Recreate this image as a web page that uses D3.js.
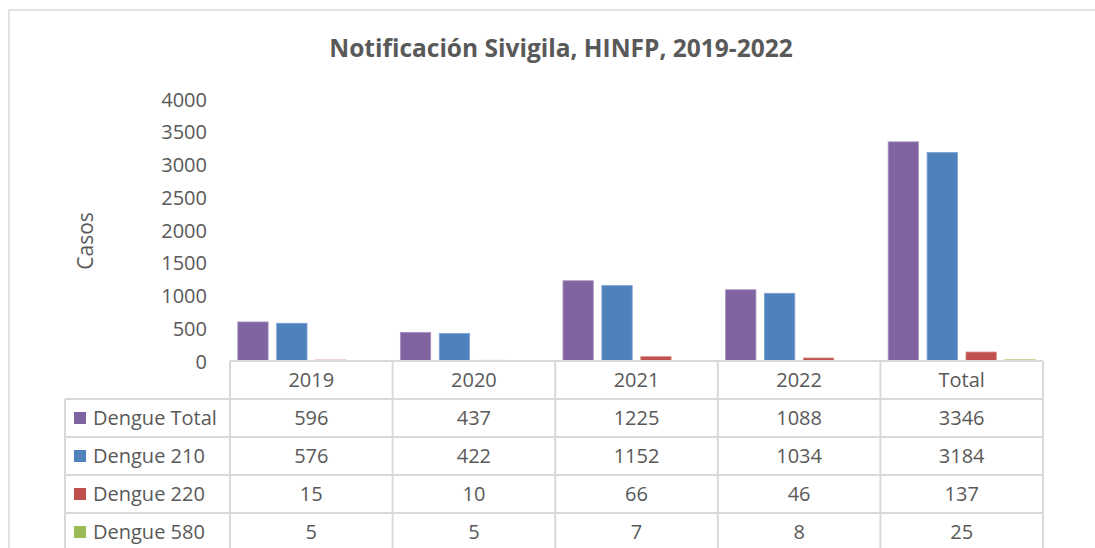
<!DOCTYPE html>
<html>
<head>
<meta charset="utf-8">
<script src="https://cdn.jsdelivr.net/npm/d3@7"></script>
<style>
  html, body { margin: 0; padding: 0; background: #fff; }
  text { font-family: "Open Sans", "Noto Sans", sans-serif; fill: #595959; }
</style>
</head>
<body>
<script>
// datos
const categorias = ['2019', '2020', '2021', '2022', 'Total']
const series = ['Dengue Total', 'Dengue 210', 'Dengue 220', 'Dengue 580']
const dengueTotal = [596, 437, 1225, 1088, 3346]
const dengue210 = [576, 422, 1152, 1034, 3184]
const dengue220 = [15, 10, 66, 46, 137]
const dengue580 = [5, 5, 7, 8, 25]
const yTicks = [0, 500, 1000, 1500, 2000, 2500, 3000, 3500, 4000]

const valores = [dengueTotal, dengue210, dengue220, dengue580]
const colores = ['#8064A2', '#4F81BD', '#C0504D', '#9BBB59']
const bordes = ['#a993c0', '#7fa3d4', '#d98886', '#c3d89e']
const grid = '#d9d9d9'

const width = 1095, height = 548
const plot = {left: 230, right: 1043, top: 99, bottom: 361}
const rowH = 38
const tableLeft = 65
const fs = '20px'

const svg = d3.select('body').append('svg').attr('width', width).attr('height', height)

// marco exterior
svg.append('rect')
    .attr('x', 9).attr('y', 10).attr('width', 1100).attr('height', 560)
    .attr('fill', 'none').attr('stroke', grid).attr('stroke-width', 1.5)

// título
svg.append('text')
    .attr('x', 561).attr('y', 57)
    .attr('text-anchor', 'middle')
    .style('font-size', '24.5px').style('font-weight', 'bold')
    .text('Notificación Sivigila, HINFP, 2019-2022')

// escalas
const x0 = d3.scaleBand(categorias, [plot.left, plot.right])
const x1 = d3.scaleBand(d3.range(series.length), [0, x0.bandwidth()])
    .paddingInner(0.22).paddingOuter(0.2)
const y = d3.scaleLinear([0, 4000], [plot.bottom, plot.top])

// eje y
const yAxis = svg.append('g')
    .attr('transform', `translate(${plot.left - 23},0)`)
    .call(d3.axisLeft(y).tickValues(yTicks).tickFormat(d3.format('d')).tickSize(0).tickPadding(0))
yAxis.select('.domain').remove()
yAxis.selectAll('text')
    .attr('dy', '0.35em')
    .style('font-size', fs)
    .style('fill', '#595959')
    .style('font-family', '"Open Sans", sans-serif')

svg.append('text')
    .attr('transform', `translate(93,${(plot.top + plot.bottom) / 2 + 11}) rotate(-90)`)
    .attr('text-anchor', 'middle')
    .style('font-size', '21px')
    .text('Casos')

// barras
const grupos = svg.append('g').selectAll('g')
    .data(categorias)
    .join('g')
    .attr('transform', d => `translate(${x0(d)},0)`)

grupos.selectAll('rect')
    .data((c, i) => valores.map((v, s) => ({s, v: v[i]})))
    .join('rect')
    .attr('x', d => x1(d.s))
    .attr('width', x1.bandwidth())
    .attr('y', d => y(d.v))
    .attr('height', d => y(0) - y(d.v))
    .attr('fill', d => colores[d.s])
    .attr('stroke', d => bordes[d.s])
    .attr('stroke-width', 0.8)

// tabla de datos
const filas = d3.scaleBand(['head', ...series], [plot.bottom, plot.bottom + rowH * 5])
const t = svg.append('g')

// líneas horizontales
t.selectAll('line.h')
    .data(['head', ...series])
    .join('line')
    .attr('class', 'h')
    .attr('x1', d => d === 'head' ? plot.left : tableLeft)
    .attr('x2', plot.right)
    .attr('y1', d => filas(d))
    .attr('y2', d => filas(d))
    .attr('stroke', grid).attr('stroke-width', 2)

// líneas verticales
t.selectAll('line.v')
    .data([...categorias.map(c => x0(c)), plot.right])
    .join('line')
    .attr('class', 'v')
    .attr('x1', d => d).attr('x2', d => d)
    .attr('y1', plot.bottom).attr('y2', height)
    .attr('stroke', grid).attr('stroke-width', 2)

t.append('line')
    .attr('x1', tableLeft).attr('x2', tableLeft)
    .attr('y1', filas(series[0])).attr('y2', height)
    .attr('stroke', grid).attr('stroke-width', 2)

// encabezados
t.selectAll('text.cat')
    .data(categorias)
    .join('text')
    .attr('class', 'cat')
    .attr('x', d => x0(d) + x0.bandwidth() / 2)
    .attr('y', filas('head') + rowH / 2)
    .attr('dy', '0.35em')
    .attr('text-anchor', 'middle')
    .style('font-size', fs)
    .text(d => d)

// leyenda y valores
series.forEach((s, i) => {
    const cy = filas(s) + rowH / 2
    t.append('rect')
        .attr('x', 74).attr('y', cy - 6)
        .attr('width', 12).attr('height', 12)
        .attr('fill', colores[i])
    t.append('text')
        .attr('x', 93).attr('y', cy)
        .attr('dy', '0.35em')
        .style('font-size', fs)
        .text(s)
    t.selectAll(null)
        .data(valores[i])
        .join('text')
        .attr('x', (d, j) => x0(categorias[j]) + x0.bandwidth() / 2)
        .attr('y', cy)
        .attr('dy', '0.35em')
        .attr('text-anchor', 'middle')
        .style('font-size', fs)
        .text(d => d)
})
</script>
</body>
</html>
